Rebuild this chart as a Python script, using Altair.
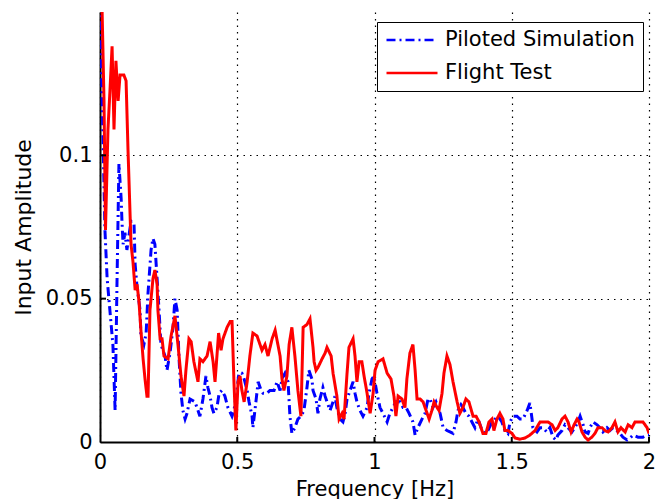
import altair as alt
import pandas as pd

sim_freq = [0, 0.004, 0.011, 0.018, 0.026, 0.036, 0.047, 0.055, 0.062, 0.069,
            0.077, 0.080, 0.084, 0.091, 0.098, 0.113, 0.124, 0.128, 0.135, 0.146,
            0.149, 0.160, 0.168, 0.175, 0.186, 0.193, 0.200, 0.208, 0.215, 0.222,
            0.237, 0.244, 0.255, 0.266, 0.273, 0.281, 0.288, 0.295, 0.302, 0.310,
            0.317, 0.328, 0.346, 0.357, 0.364, 0.375, 0.386, 0.393, 0.401, 0.408,
            0.415, 0.426, 0.434, 0.444, 0.455, 0.466, 0.481, 0.488, 0.499, 0.506,
            0.517, 0.525, 0.536, 0.543, 0.554, 0.557, 0.568, 0.576, 0.587, 0.594,
            0.608, 0.619, 0.634, 0.645, 0.656, 0.663, 0.674, 0.685, 0.692, 0.699,
            0.710, 0.721, 0.732, 0.743, 0.754, 0.761, 0.772, 0.776, 0.787, 0.794,
            0.801, 0.812, 0.820, 0.827, 0.838, 0.849, 0.856, 0.863, 0.874, 0.885,
            0.893, 0.900, 0.911, 0.922, 0.929, 0.936, 0.947, 0.958, 0.973, 0.980,
            0.991, 0.998, 1.009, 1.020, 1.031, 1.046, 1.056, 1.067, 1.078, 1.093,
            1.104, 1.115, 1.126, 1.140, 1.148, 1.158, 1.173, 1.184, 1.195, 1.202,
            1.213, 1.224, 1.239, 1.250, 1.264, 1.275, 1.286, 1.297, 1.304, 1.315,
            1.322, 1.333, 1.344, 1.355, 1.366, 1.377, 1.392, 1.403, 1.413, 1.428,
            1.439, 1.450, 1.464, 1.475, 1.486, 1.494, 1.504, 1.519, 1.530, 1.541,
            1.556, 1.566, 1.574, 1.577, 1.592, 1.603, 1.614, 1.628, 1.639, 1.650,
            1.661, 1.668, 1.683, 1.694, 1.705, 1.719, 1.730, 1.741, 1.749, 1.760,
            1.767, 1.778, 1.785, 1.796, 1.811, 1.821, 1.832, 1.847, 1.858, 1.869,
            1.883, 1.894, 1.905, 1.920, 1.931, 1.942, 1.960, 1.978, 1.993, 2.000]
sim_amp = [0.16, 0.136, 0.106, 0.074, 0.057, 0.046, 0.034, 0.011, 0.056, 0.097,
           0.085, 0.077, 0.069, 0.073, 0.067, 0.077, 0.076, 0.062, 0.054, 0.046,
           0.037, 0.034, 0.038, 0.052, 0.067, 0.071, 0.069, 0.057, 0.046, 0.034,
           0.030, 0.025, 0.031, 0.040, 0.050, 0.046, 0.029, 0.017, 0.011, 0.008,
           0.010, 0.015, 0.014, 0.011, 0.009, 0.015, 0.023, 0.019, 0.016, 0.012,
           0.010, 0.012, 0.017, 0.018, 0.016, 0.012, 0.009, 0.011, 0.018, 0.024,
           0.024, 0.022, 0.018, 0.014, 0.009, 0.005, 0.014, 0.021, 0.018, 0.017,
           0.017, 0.018, 0.018, 0.021, 0.018, 0.022, 0.024, 0.021, 0.009, 0.003,
           0.005, 0.008, 0.009, 0.011, 0.019, 0.025, 0.022, 0.018, 0.015, 0.010,
           0.015, 0.019, 0.016, 0.014, 0.011, 0.014, 0.016, 0.012, 0.008, 0.007,
           0.010, 0.015, 0.018, 0.021, 0.017, 0.014, 0.011, 0.009, 0.012, 0.017,
           0.022, 0.023, 0.017, 0.012, 0.010, 0.007, 0.010, 0.012, 0.014, 0.014,
           0.012, 0.012, 0.010, 0.007, 0.0024, 0.005, 0.008, 0.010, 0.015, 0.015,
           0.012, 0.014, 0.010, 0.005, 0.004, 0.0035, 0.003, 0.007, 0.011, 0.013,
           0.012, 0.010, 0.009, 0.007, 0.005, 0.008, 0.004, 0.003, 0.004, 0.007,
           0.008, 0.009, 0.007, 0.004, 0.003, 0.007, 0.009, 0.009, 0.008, 0.008,
           0.011, 0.0136, 0.008, 0.005, 0.0035, 0.005, 0.005, 0.0035, 0.005, 0.0017,
           0.0007, 0.0024, 0.004, 0.006, 0.005, 0.0035, 0.005, 0.007, 0.009, 0.006,
           0.0035, 0.003, 0.005, 0.007, 0.006, 0.005, 0.0035, 0.005, 0.004, 0.005,
           0.004, 0.003, 0.0017, 0.0007, 0.0014, 0.0024, 0.0017, 0.0017, 0.0024, 0.0024]

test_freq = [0, 0.0073, 0.0146, 0.020, 0.029, 0.036, 0.044, 0.051, 0.058, 0.066,
             0.073, 0.087, 0.095, 0.102, 0.109, 0.113, 0.120, 0.128, 0.135, 0.142,
             0.149, 0.157, 0.164, 0.171, 0.175, 0.182, 0.193, 0.200, 0.208, 0.211,
             0.219, 0.226, 0.233, 0.248, 0.259, 0.273, 0.284, 0.295, 0.306, 0.313,
             0.324, 0.332, 0.342, 0.357, 0.364, 0.375, 0.390, 0.401, 0.412, 0.419,
             0.426, 0.432, 0.441, 0.448, 0.463, 0.474, 0.481, 0.488, 0.495, 0.503,
             0.510, 0.517, 0.525, 0.536, 0.546, 0.557, 0.572, 0.583, 0.590, 0.601,
             0.612, 0.627, 0.638, 0.648, 0.656, 0.663, 0.670, 0.681, 0.689, 0.699,
             0.710, 0.721, 0.732, 0.740, 0.754, 0.765, 0.776, 0.780, 0.787, 0.794,
             0.809, 0.820, 0.827, 0.842, 0.849, 0.863, 0.871, 0.882, 0.889, 0.900,
             0.907, 0.922, 0.929, 0.936, 0.944, 0.954, 0.962, 0.973, 0.984, 0.995,
             1.002, 1.013, 1.031, 1.046, 1.060, 1.071, 1.078, 1.086, 1.100, 1.111,
             1.118, 1.129, 1.140, 1.148, 1.155, 1.166, 1.177, 1.188, 1.199, 1.209,
             1.217, 1.228, 1.235, 1.246, 1.253, 1.264, 1.275, 1.286, 1.301, 1.311,
             1.322, 1.333, 1.344, 1.359, 1.370, 1.381, 1.395, 1.406, 1.417, 1.428,
             1.435, 1.446, 1.457, 1.468, 1.475, 1.486, 1.501, 1.512, 1.530, 1.548,
             1.566, 1.585, 1.603, 1.617, 1.632, 1.647, 1.658, 1.668, 1.683, 1.694,
             1.705, 1.716, 1.727, 1.738, 1.745, 1.756, 1.767, 1.778, 1.792, 1.803,
             1.814, 1.829, 1.840, 1.851, 1.865, 1.876, 1.887, 1.898, 1.913, 1.924,
             1.938, 1.949, 1.967, 1.978, 1.993, 2.000]
test_amp = [0.161, 0.152, 0.119, 0.074, 0.109, 0.122, 0.138, 0.109, 0.133, 0.119,
            0.128, 0.128, 0.126, 0.102, 0.081, 0.069, 0.063, 0.053, 0.055, 0.049,
            0.039, 0.029, 0.022, 0.016, 0.016, 0.046, 0.057, 0.060, 0.055, 0.046,
            0.036, 0.036, 0.030, 0.029, 0.037, 0.044, 0.034, 0.023, 0.016, 0.025,
            0.036, 0.035, 0.028, 0.021, 0.029, 0.028, 0.030, 0.035, 0.028, 0.021,
            0.030, 0.038, 0.032, 0.036, 0.040, 0.042, 0.042, 0.021, 0.004, 0.021,
            0.023, 0.018, 0.014, 0.021, 0.030, 0.038, 0.037, 0.034, 0.032, 0.034,
            0.030, 0.036, 0.039, 0.034, 0.030, 0.022, 0.018, 0.023, 0.034, 0.040,
            0.030, 0.018, 0.009, 0.040, 0.041, 0.043, 0.033, 0.028, 0.025, 0.026,
            0.029, 0.031, 0.033, 0.030, 0.024, 0.016, 0.008, 0.010, 0.008, 0.024,
            0.033, 0.036, 0.030, 0.021, 0.028, 0.028, 0.023, 0.017, 0.010, 0.017,
            0.025, 0.028, 0.029, 0.024, 0.022, 0.016, 0.009, 0.016, 0.015, 0.012,
            0.022, 0.031, 0.034, 0.025, 0.015, 0.015, 0.014, 0.011, 0.008, 0.011,
            0.014, 0.012, 0.011, 0.017, 0.024, 0.030, 0.027, 0.021, 0.014, 0.010,
            0.012, 0.015, 0.014, 0.009, 0.009, 0.007, 0.003, 0.003, 0.007, 0.008,
            0.004, 0.008, 0.010, 0.008, 0.004, 0.004, 0.003, 0.0014, 0.001, 0.0014,
            0.0024, 0.004, 0.007, 0.007, 0.007, 0.006, 0.004, 0.005, 0.008, 0.009,
            0.007, 0.0035, 0.006, 0.008, 0.007, 0.0035, 0.0017, 0.0007, 0.0017, 0.003,
            0.005, 0.005, 0.004, 0.0035, 0.005, 0.007, 0.0035, 0.005, 0.0035, 0.006,
            0.005, 0.007, 0.007, 0.007, 0.005, 0.003]

series_names = ["Piloted Simulation", "Flight Test"]
series_colors = ["#0000ff", "#ff0000"]
series_dash = [[9, 4, 2, 4], [1, 0]]
x_ticks = [0, 0.5, 1, 1.5, 2]
y_ticks = [0, 0.05, 0.1]

df = pd.concat([
    pd.DataFrame({"freq": sim_freq, "amp": sim_amp, "series": series_names[0]}),
    pd.DataFrame({"freq": test_freq, "amp": test_amp, "series": series_names[1]}),
])

FONT = "DejaVu Sans"
xscale = alt.Scale(domain=[0, 2], nice=False, zero=False)
yscale = alt.Scale(domain=[0, 0.15], nice=False)

color = alt.Color("series:N", scale=alt.Scale(domain=series_names, range=series_colors),
                  legend=alt.Legend(title=None))
dash = alt.StrokeDash("series:N", scale=alt.Scale(domain=series_names, range=series_dash),
                      legend=alt.Legend(title=None))

xenc = alt.X("freq:Q", scale=xscale,
             axis=alt.Axis(title="Frequency [Hz]", values=x_ticks, format="~g"))
yenc = alt.Y("amp:Q", scale=yscale,
             axis=alt.Axis(title="Input Amplitude", values=y_ticks, format="~g"))

base = alt.Chart(df)
sim_line = base.transform_filter(alt.datum.series == series_names[0]).mark_line(
    strokeWidth=3, clip=True).encode(x=xenc, y=yenc, color=color, strokeDash=dash)
test_line = base.transform_filter(alt.datum.series == series_names[1]).mark_line(
    strokeWidth=3, clip=True).encode(x=xenc, y=yenc, color=color, strokeDash=dash)

xt = pd.DataFrame({"t": x_ticks[1:]})
yt = pd.DataFrame({"t": y_ticks[1:]})
xtick_marks = alt.Chart(xt).mark_rule(color="black", strokeWidth=2).encode(
    x=alt.X("t:Q", scale=xscale), y=alt.value(430), y2=alt.value(425))
ytick_marks = alt.Chart(yt).mark_rule(color="black", strokeWidth=2).encode(
    y=alt.Y("t:Q", scale=yscale), x=alt.value(0), x2=alt.value(6))

chart = alt.layer(sim_line, test_line, xtick_marks, ytick_marks).properties(
    width=549, height=430,
    padding={"left": 100, "top": 12, "right": 19, "bottom": 57},
    autosize=alt.AutoSizeParams(type="none"),
    background="white",
).configure_view(stroke=None).configure_axis(
    domainColor="black", domainWidth=2,
    ticks=False, tickSize=0,
    labelFont=FONT, labelFontSize=21, labelColor="black",
    titleFont=FONT, titleFontSize=21, titleColor="black", titleFontWeight="normal",
    grid=True, gridColor="black", gridDash=[1.5, 5], gridWidth=1.2, gridOpacity=1,
).configure_axisX(
    labelPadding=9, titlePadding=6, labelFlush=False,
).configure_axisY(
    labelPadding=8, titlePadding=10, titleFontSize=22,
).configure_legend(
    orient="none", legendX=277, legendY=10,
    strokeColor="black", fillColor="white", padding=8, cornerRadius=0,
    symbolType="stroke", symbolSize=2601, symbolStrokeWidth=2.5,
    clipHeight=20, rowPadding=12, labelOffset=6,
    labelFont=FONT, labelFontSize=21, labelColor="black", labelLimit=400,
)

chart.save("out.html", embed_options={"renderer": "svg", "actions": False})
